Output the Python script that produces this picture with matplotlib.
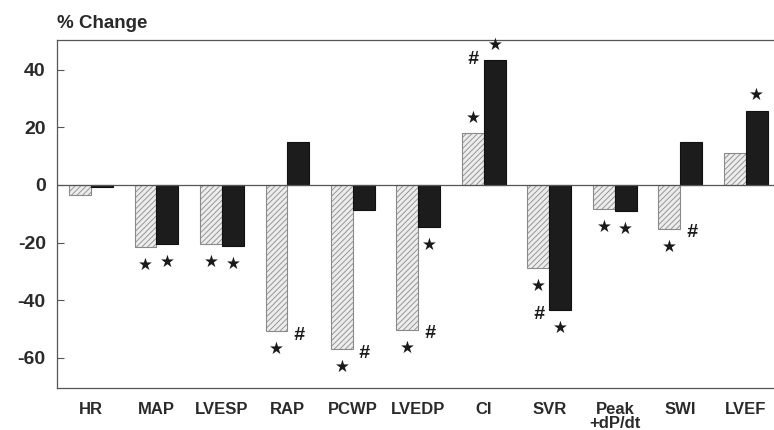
import matplotlib
matplotlib.use("Agg")
import matplotlib.pyplot as plt
import numpy as np

categories = ["HR", "MAP", "LVESP", "RAP", "PCWP", "LVEDP", "CI", "SVR", "Peak\n+dP/dt", "SWI", "LVEF"]
hatched_vals = [-3.6, -21.4, -20.5, -50.7, -57.0, -50.3, 18.0, -28.7, -8.4, -15.2, 11.0]
black_vals = [-0.8, -20.6, -21.2, 15.0, -8.7, -14.5, 43.4, -43.4, -9.0, 15.0, 25.8]
# stars: (category index, series 0=hatched 1=black)
stars = [(1, 0), (1, 1), (2, 0), (2, 1), (3, 0), (4, 0), (5, 0), (5, 1),
         (6, 0), (6, 1), (7, 0), (7, 1), (8, 0), (8, 1), (9, 0), (10, 1)]
# hashes: category index (placed beside the more extreme bar)
hashes = [3, 4, 5, 6, 7, 9]
yticks = [-60, -40, -20, 0, 20, 40]

plt.rcParams['font.family'] = ['Liberation Sans', 'DejaVu Sans']
plt.rcParams['hatch.color'] = "#9a9a9a"
plt.rcParams['hatch.linewidth'] = 0.6

fig = plt.figure(figsize=(7.74, 4.30), dpi=100)
ax = fig.add_axes([0.0736, 0.0977, 0.9264, 0.8093])

x = np.arange(len(categories))
w = 0.335
hb = ax.bar(x - w / 2, hatched_vals, w, facecolor="#ececec", edgecolor="#8a8a8a",
            hatch="//////", linewidth=0.8, zorder=2)
bb = ax.bar(x + w / 2, black_vals, w, facecolor="#1c1c1c", edgecolor="#111111",
            linewidth=0.8, zorder=2)

ax.axhline(0, color="#555555", linewidth=0.9, zorder=3)

series = [hatched_vals, black_vals]
for ci, s in stars:
    v = series[s][ci]
    xs = x[ci] + (-w / 2 if s == 0 else w / 2)
    dy = 11 if v >= 0 else -13
    ax.annotate("★", (xs, v), xytext=(0, dy), textcoords="offset points",
                ha="center", va="center", fontsize=12, color="#1a1a1a",
                family=["DejaVu Sans"], zorder=4)

for ci in hashes:
    hv, bv = hatched_vals[ci], black_vals[ci]
    if abs(hv) >= abs(bv):
        v, xs = hv, x[ci] + w / 2
    else:
        v, xs = bv, x[ci] - w / 2
    dy = -3 if v < 0 else 0
    ax.annotate("#", (xs, v), xytext=(0, dy), textcoords="offset points",
                ha="center", va="center", fontsize=14, fontstyle="italic",
                fontweight="bold", color="#1a1a1a", zorder=4)

ax.set_xlim(-0.52, 10.43)
ax.set_ylim(-70.5, 50.3)
ax.set_yticks(yticks)
ax.set_yticklabels([str(t) for t in yticks], fontsize=14, fontweight="bold", color="#2a2a2a")
ax.set_xticks(x)
ax.set_xticklabels(categories, fontsize=12, fontweight="bold", color="#2a2a2a",
                   linespacing=0.95, va="top")
ax.tick_params(axis="x", length=0, pad=10)
ax.tick_params(axis="y", direction="in", length=5, width=0.8, pad=8, colors="#555555",
               labelcolor="#2a2a2a")
for side in ["top", "bottom", "left"]:
    ax.spines[side].set_color("#555555")
    ax.spines[side].set_linewidth(0.9)
ax.spines["right"].set_visible(False)

fig.text(0.074, 1 - 24 / 430, "% Change", ha="left", va="center", fontsize=13.5,
         fontweight="bold", color="#2a2a2a")

fig.savefig("out.png", dpi=100)
